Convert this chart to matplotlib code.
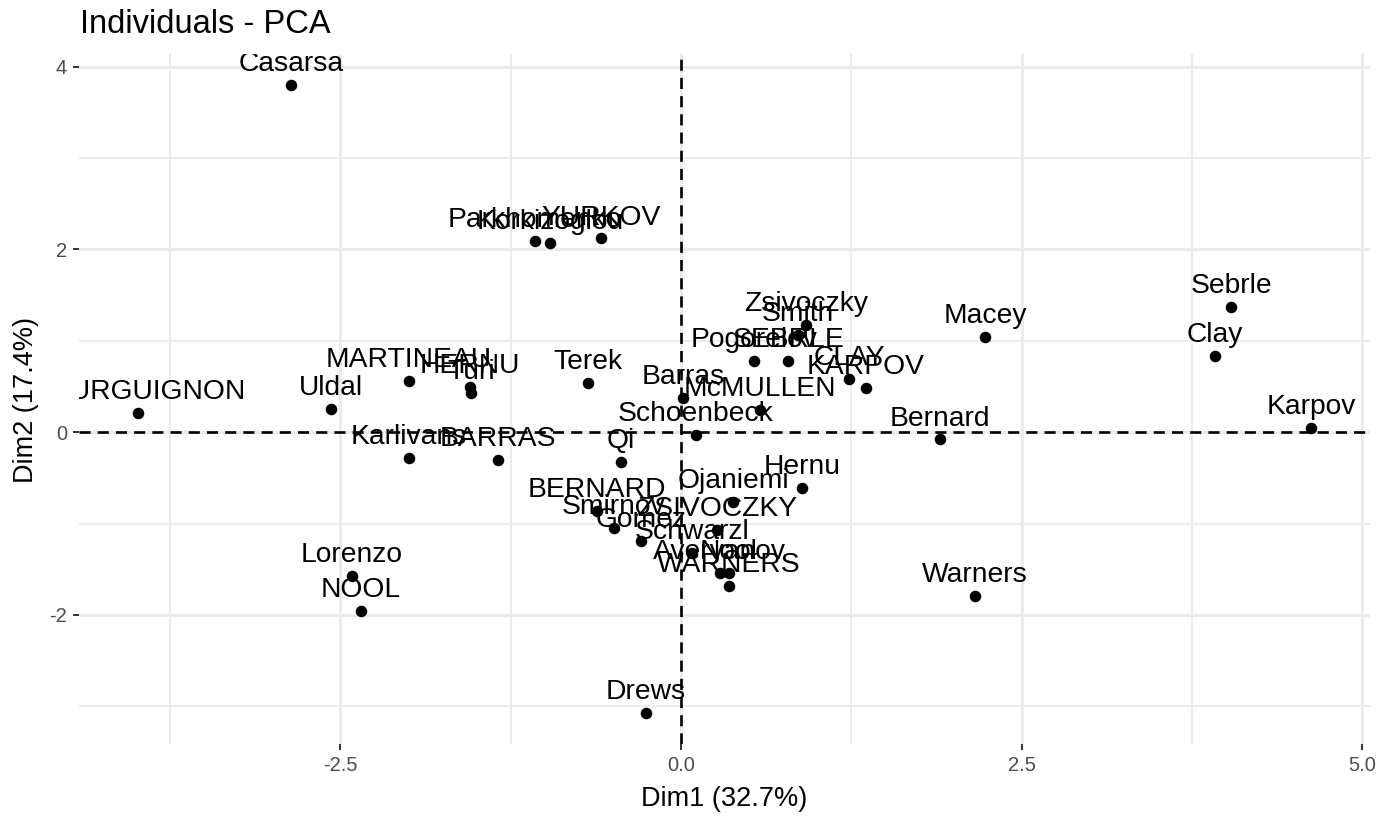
import matplotlib
matplotlib.use("Agg")
import matplotlib.pyplot as plt
from matplotlib.ticker import FormatStrFormatter

plt.rcParams['font.family'] = ['Liberation Sans', 'DejaVu Sans']
plt.rcParams['axes.unicode_minus'] = False

# individuals coordinates
names = ["SEBRLE", "CLAY", "KARPOV", "BERNARD", "YURKOV", "WARNERS", "ZSIVOCZKY",
         "McMULLEN", "MARTINEAU", "HERNU", "BARRAS", "NOOL", "BOURGUIGNON",
         "Sebrle", "Clay", "Karpov", "Macey", "Warners", "Zsivoczky", "Hernu",
         "Nool", "Bernard", "Schwarzl", "Pogorelov", "Schoenbeck", "Barras",
         "Smith", "Averyanov", "Ojaniemi", "Smirnov", "Qi", "Drews",
         "Parkhomenko", "Terek", "Gomez", "Turi", "Lorenzo", "Karlivans",
         "Korkizoglou", "Uldal", "Casarsa"]
dim1 = [0.786, 1.233, 1.358, -0.617, -0.587, 0.352, 0.264,
        0.580, -1.997, -1.549, -1.344, -2.350, -3.987,
        4.038, 3.921, 4.626, 2.232, 2.159, 0.918, 0.888,
        0.352, 1.900, 0.081, 0.536, 0.110, 0.015,
        0.859, 0.286, 0.382, -0.492, -0.440, -0.257,
        -1.072, -0.683, -0.294, -1.542, -2.416, -1.997,
        -0.962, -2.570, -2.863]
dim2 = [0.780, 0.580, 0.480, -0.864, 2.120, -1.680, -1.070,
        0.240, 0.558, 0.492, -0.306, -1.960, 0.208,
        1.368, 0.830, 0.044, 1.040, -1.790, 1.170, -0.612,
        -1.540, -0.080, -1.320, 0.780, -0.030, 0.370,
        1.060, -1.540, -0.766, -1.050, -0.330, -3.070,
        2.090, 0.536, -1.190, 0.427, -1.575, -0.284,
        2.070, 0.252, 3.800]

xticks = [-2.5, 0.0, 2.5, 5.0]
xminor = [-3.75, -1.25, 1.25, 3.75]
yticks = [-2, 0, 2, 4]
yminor = [-3, -1, 1, 3]

W, H = 1380, 817
fig = plt.figure(figsize=(W / 100, H / 100), dpi=100)
ax = fig.add_axes([79 / W, 1 - 744 / H, (1370 - 79) / W, (744 - 53.6) / H])

xr = max(dim1) - min(dim1)
yr = max(dim2) - min(dim2)
ax.set_xlim(min(dim1) - 0.05 * xr, max(dim1) + 0.05 * xr)
ax.set_ylim(min(dim2) - 0.05 * yr, max(dim2) + 0.05 * yr)

ax.set_xticks(xticks)
ax.set_xticks(xminor, minor=True)
ax.set_yticks(yticks)
ax.set_yticks(yminor, minor=True)
ax.xaxis.set_major_formatter(FormatStrFormatter('%.1f'))
ax.grid(which='major', color='#EBEBEB', lw=2.2)
ax.grid(which='minor', color='#EBEBEB', lw=1.3)
ax.set_axisbelow(True)
for s in ax.spines.values():
    s.set_visible(False)
ax.tick_params(which='major', length=4.5, width=1.4, color='#333333',
               labelcolor='#4D4D4D', labelsize=14.5, pad=4)
ax.tick_params(which='minor', length=0)

ax.axhline(0, color='black', lw=1.9, ls=(0, (4.2, 2.7)), zorder=2)
ax.axvline(0, color='black', lw=1.9, ls=(0, (4.2, 2.7)), zorder=2)

ax.scatter(dim1, dim2, s=69, c='black', lw=0, zorder=3)
for n, x, y in zip(names, dim1, dim2):
    ax.annotate(n, (x, y), xytext=(0, 10), textcoords='offset points',
                ha='center', va='baseline', fontsize=20.3, color='black',
                clip_on=True, zorder=4)

fig.text(80 / W, 1 - 33 / H, "Individuals - PCA", fontsize=23.5,
         ha='left', va='baseline')
fig.text(724.5 / W, 1 - 806 / H, "Dim1 (32.7%)", fontsize=19.5,
         ha='center', va='baseline')
fig.text(26 / W, 1 - 400 / H, "Dim2 (17.4%)", fontsize=19.5, rotation=90,
         ha='center', va='center')

fig.savefig("out.png", dpi=100, facecolor='white')
